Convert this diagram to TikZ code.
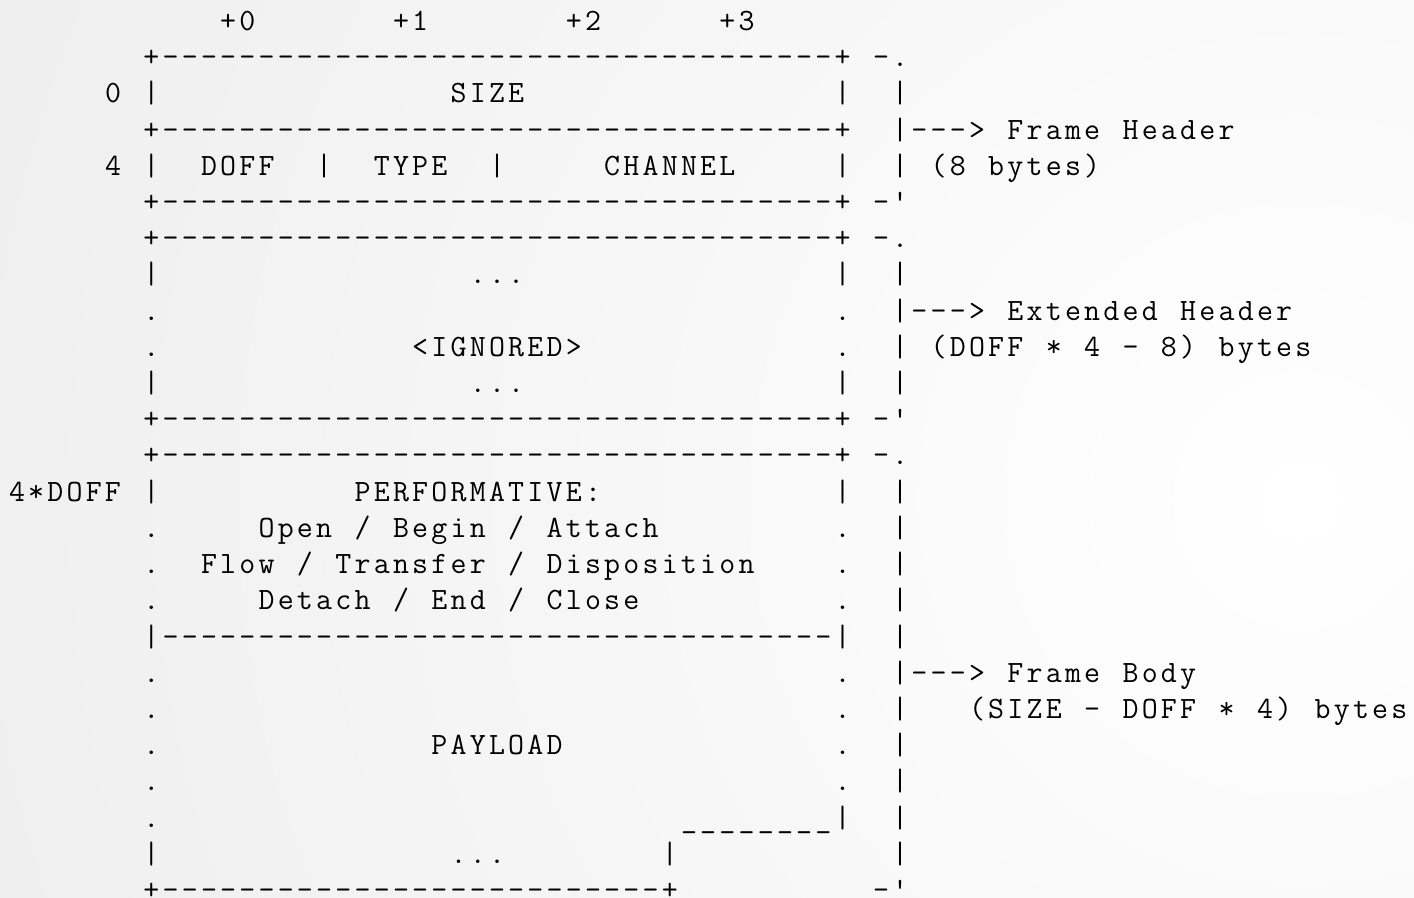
\documentclass[tikz,border=0pt]{standalone}
\makeatletter
\newcommand\cells[1]{\cells@#1\cells@end}
\def\cells@end{\cells@end}
\def\cells@#1{\ifx#1\cells@end\else\makebox[9.6pt]{#1}\expandafter\cells@\fi}
\makeatother
\newcommand\seg[3]{\node[row] (s#2-#1) at ({3.7pt+#1*9.6pt},{-15.3pt-#2*18.1pt}) {\cells{#3}};}
\newcommand\bord[1]{\seg{7}{#1}{+-----------------------------------+}}
\tikzset{row/.style={anchor=base west,inner sep=0pt,outer sep=0pt,font=\ttfamily\fontsize{15.5pt}{18pt}\selectfont}}
\begin{document}
\begin{tikzpicture}
\useasboundingbox (0,0) rectangle (707pt,-449pt);
\fill[gray!24] (0,0) rectangle (707pt,-449pt);
\begin{scope}
\clip (0,0) rectangle (707pt,-449pt);
\shade[inner color=white, outer color=gray!24] (650pt,-250pt) circle (1300pt);
\end{scope}
% row 0
\seg{11}{0}{+0}\seg{20}{0}{+1}\seg{29}{0}{+2}\seg{37}{0}{+3}
% frame header
\bord{1}\seg{45}{1}{-.}
\seg{5}{2}{0}\seg{7}{2}{|}\seg{23}{2}{SIZE}\seg{43}{2}{|}\seg{46}{2}{|}
\bord{3}\seg{46}{3}{|--->~Frame~Header}
\seg{5}{4}{4}\seg{7}{4}{|}\seg{10}{4}{DOFF}\seg{16}{4}{|}\seg{19}{4}{TYPE}\seg{25}{4}{|}\seg{31}{4}{CHANNEL}\seg{43}{4}{|}\seg{46}{4}{|~(8~bytes)}
\bord{5}\seg{45}{5}{-\textquotesingle}
% extended header
\bord{6}\seg{45}{6}{-.}
\seg{7}{7}{|}\seg{24}{7}{...}\seg{43}{7}{|}\seg{46}{7}{|}
\seg{7}{8}{.}\seg{43}{8}{.}\seg{46}{8}{|--->~Extended~Header}
\seg{7}{9}{.}\seg{21}{9}{<IGNORED>}\seg{43}{9}{.}\seg{46}{9}{|~(DOFF~*~4~-~8)~bytes}
\seg{7}{10}{|}\seg{24}{10}{...}\seg{43}{10}{|}\seg{46}{10}{|}
\bord{11}\seg{45}{11}{-\textquotesingle}
% frame body
\bord{12}\seg{45}{12}{-.}
\seg{0}{13}{4*DOFF}\seg{7}{13}{|}\seg{18}{13}{PERFORMATIVE:}\seg{43}{13}{|}\seg{46}{13}{|}
\seg{7}{14}{.}\seg{13}{14}{Open~/~Begin~/~Attach}\seg{43}{14}{.}\seg{46}{14}{|}
\seg{7}{15}{.}\seg{10}{15}{Flow~/~Transfer~/~Disposition}\seg{43}{15}{.}\seg{46}{15}{|}
\seg{7}{16}{.}\seg{13}{16}{Detach~/~End~/~Close}\seg{43}{16}{.}\seg{46}{16}{|}
\seg{7}{17}{|-----------------------------------|}\seg{46}{17}{|}
\seg{7}{18}{.}\seg{43}{18}{.}\seg{46}{18}{|--->~Frame~Body}
\seg{7}{19}{.}\seg{43}{19}{.}\seg{46}{19}{|~~~(SIZE~-~DOFF~*~4)~bytes}
\seg{7}{20}{.}\seg{22}{20}{PAYLOAD}\seg{43}{20}{.}\seg{46}{20}{|}
\seg{7}{21}{.}\seg{43}{21}{.}\seg{46}{21}{|}
\seg{7}{22}{.}\seg{35}{22}{\_\_\_\_\_\_\_\_|}\seg{46}{22}{|}
\seg{7}{23}{|}\seg{23}{23}{...}\seg{34}{23}{|}\seg{46}{23}{|}
\seg{7}{24}{+--------------------------+}\seg{45}{24}{-\textquotesingle}
\end{tikzpicture}
\end{document}
